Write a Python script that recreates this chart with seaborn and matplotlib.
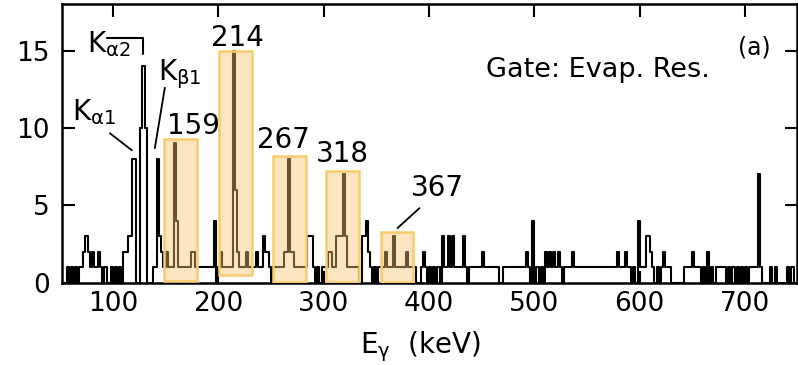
import numpy as np
import pandas as pd
import matplotlib
matplotlib.use("Agg")
import matplotlib.pyplot as plt
import seaborn as sns

# background plateaus at 1 count (keV)
bg_lo = [70, 138, 148, 200, 252, 298, 352, 412, 440, 452, 470, 510, 530, 600, 622, 642, 672, 706]
bg_hi = [84, 142, 198, 234, 284, 334, 388, 432, 450, 466, 490, 520, 590, 612, 630, 656, 682, 712]
# isolated 1-count bins (bin centre, keV)
bg_single = [57, 61, 65, 69, 85, 89, 93, 99, 103, 107, 235, 239, 241, 249, 291, 295,
             345, 349, 393, 397, 401, 405, 409, 435, 439, 491, 495, 503, 507,
             521, 525, 529, 591, 595, 613, 617, 621, 657, 661, 665, 669,
             685, 689, 693, 697, 701, 705, 715, 725, 729, 741, 745]

# bins above the background (bin centre in keV, counts)
peak_e = [73, 75, 77, 81, 87,
          111, 113, 115, 117, 119, 121, 127, 129, 131,
          143, 145, 147,
          151, 159, 161, 175, 177, 197,
          203, 215, 217, 219, 227,
          237, 243, 245, 247,
          263, 265, 267, 269, 271, 285, 287, 289,
          305, 307, 313, 315, 317, 319, 321,
          337, 339, 341, 343,
          359, 367, 379, 395, 413, 419, 423, 433, 451,
          493, 499, 511, 515, 519, 523, 537,
          579, 587, 599, 607, 609, 611, 623, 651, 665, 713]
peak_n = [2, 3, 2, 2, 2,
          2, 2, 3, 3, 8, 8, 10, 14, 10,
          8, 3, 2,
          2, 9, 4, 2, 2, 4,
          2, 15, 6, 2, 2,
          2, 3, 2, 2,
          2, 2, 8, 2, 2, 3, 3, 3,
          2, 2, 3, 3, 3, 7, 3,
          3, 3, 4, 2,
          2, 3, 2, 2, 3, 3, 3, 3, 2,
          2, 4, 2, 2, 2, 2, 2,
          2, 2, 4, 3, 3, 2, 2, 2, 2, 7]

# gated transitions (boxes)
gate_labels = ["159", "214", "267", "318", "367"]
gate_lo = [148.3, 200.5, 251.7, 301.9, 354.0]
gate_hi = [179.6, 231.8, 282.9, 333.2, 385.3]
gate_bottom = [0.1, 0.5, 0.05, 0.05, 0.05]
gate_top = [9.3, 15.0, 8.2, 7.2, 3.3]

edges = np.arange(52, 752, 2)
centers = edges[:-1] + 1
counts = np.zeros(len(centers))
for lo, hi in zip(bg_lo, bg_hi):
    counts[(centers > lo) & (centers < hi)] = 1
counts[np.isin(centers, bg_single)] = 1
for e, n in zip(peak_e, peak_n):
    counts[centers == e] = n
spec = pd.DataFrame({"E": centers, "n": counts})

sns.set_style("ticks")
plt.rcParams["font.family"] = ["DejaVu Sans"]
plt.rcParams["mathtext.default"] = "regular"
for key in ["text.color", "axes.labelcolor", "xtick.color", "ytick.color", "axes.edgecolor"]:
    plt.rcParams[key] = "black"

fig = plt.figure(figsize=(7.98, 3.65), dpi=100)
ax = fig.add_axes([0.0777, 0.2247, 0.9213, 0.7643])

sns.histplot(data=spec, x="E", weights="n", binwidth=2, binrange=(52, 750),
             element="step", fill=False, color="black", linewidth=1.5, ax=ax)

# orange gate boxes
lo = np.array(gate_lo)
hi = np.array(gate_hi)
bot = np.array(gate_bottom)
ax.bar((lo + hi) / 2, np.array(gate_top) - bot, bottom=bot, width=hi - lo,
       color=(249 / 255, 198 / 255, 112 / 255, 0.43), edgecolor="#F8CC6E",
       linewidth=1.8, zorder=3)

# peak labels
fs = 20
ax.text(176.3, 10.1, "159", ha="center", va="center", fontsize=fs)
ax.text(218, 15.8, "214", ha="center", va="center", fontsize=fs)
ax.text(261.6, 9.2, "267", ha="center", va="center", fontsize=fs)
ax.text(318, 8.3, "318", ha="center", va="center", fontsize=fs)
ax.text(408, 6.15, "367", ha="center", va="center", fontsize=fs)
ax.plot([370.1, 391], [3.54, 4.83], color="black", lw=1.3)

# X-ray labels
ax.text(61.1, 10.5, r"K$_{\alpha1}$", ha="left", va="baseline", fontsize=fs)
ax.plot([97.2, 118], [9.66, 8.56], color="black", lw=1.3)
ax.text(75.8, 14.9, r"K$_{\alpha2}$", ha="left", va="baseline", fontsize=fs)
ax.plot([94.3, 128.4, 128.4], [15.78, 15.78, 14.8], color="black", lw=1.5)
ax.text(142.7, 13.07, r"K$_{\beta1}$", ha="left", va="baseline", fontsize=fs)
ax.plot([149.3, 139.8], [12.6, 8.7], color="black", lw=1.3)

ax.text(560.7, 13.75, "Gate: Evap. Res.", ha="center", va="center", fontsize=19.5)
ax.text(708.5, 15.2, "(a)", ha="center", va="center", fontsize=17)

ax.set_xlim(51.7, 749.5)
ax.set_ylim(0, 18)
ax.set_xticks([100, 200, 300, 400, 500, 600, 700])
ax.set_yticks([0, 5, 10, 15])
ax.tick_params(direction="in", length=9, width=1.5, top=True, right=True,
               labelsize=19)
ax.tick_params(axis="x", pad=6)
ax.tick_params(axis="y", pad=9)
for s in ax.spines.values():
    s.set_linewidth(1.8)
    s.set_visible(True)
ax.set_ylabel("")
ax.set_xlabel(r"E$_{\gamma}$  (keV)", fontsize=20)
ax.xaxis.set_label_coords(0.488, -0.165)

fig.savefig("out.png", dpi=100)
